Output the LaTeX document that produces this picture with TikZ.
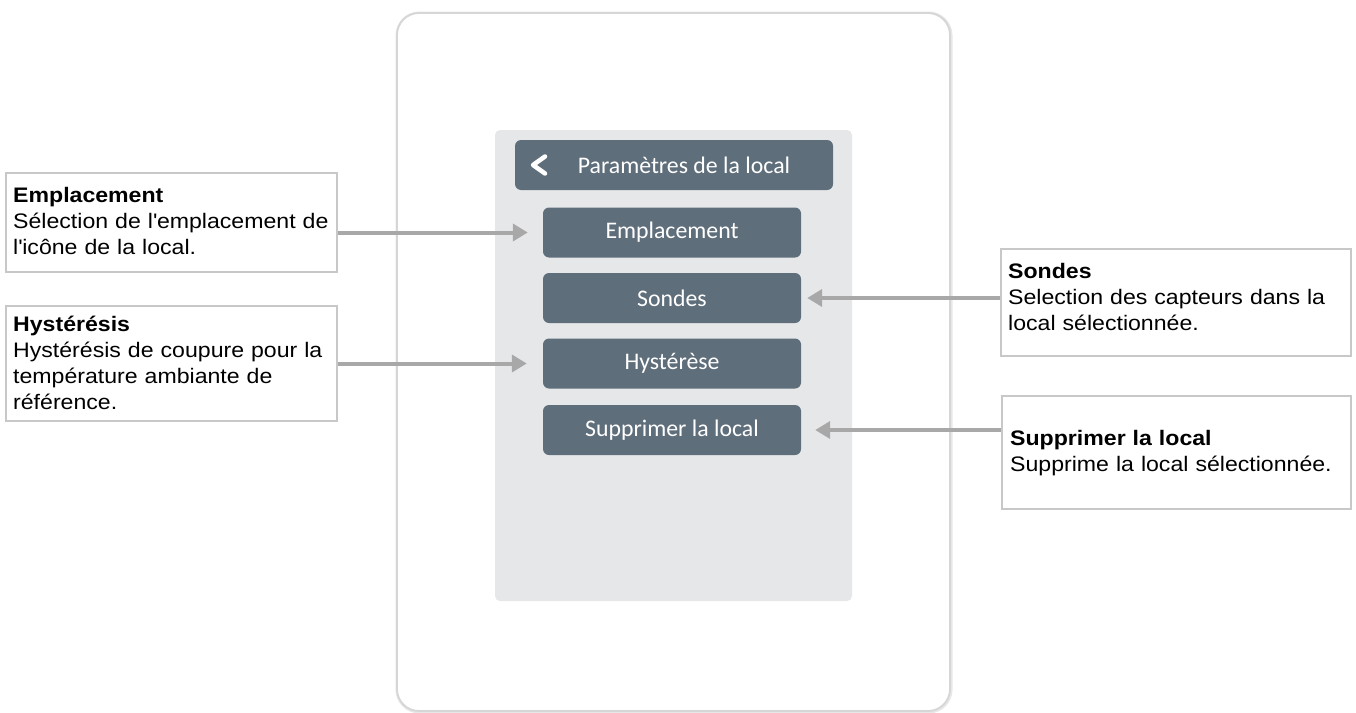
\documentclass[tikz,border=0pt]{standalone}
\usepackage{fontspec}
\setmainfont{Liberation Sans}[FakeStretch=1.1]
\newfontfamily\uifont{Carlito}
\usetikzlibrary{arrows.meta}

\definecolor{frameline}{HTML}{D6D6D6}
\definecolor{panelgray}{HTML}{E6E7E9}
\definecolor{slate}{HTML}{5F6E7B}
\definecolor{boxline}{HTML}{C8C8C8}
\definecolor{pointergray}{HTML}{A8A8A8}

\tikzset{
  uibutton/.style={fill=slate, rounded corners=6pt, minimum width=258pt,
    minimum height=50pt, text=white, font=\uifont\fontsize{23.8}{26}\selectfont,
    inner sep=0pt},
  calloutbox/.style={draw=boxline, line width=1.5pt, fill=white,
    anchor=north west, inner sep=0pt},
  callouttext/.style={anchor=base west, inner sep=0pt, align=left,
    text width=330pt, font=\fontsize{21}{26}\selectfont},
  pointer/.style={draw=pointergray, line width=4pt,
    -{Triangle[length=15pt,width=17pt]}, shorten >=15pt},
}

\begin{document}
\begin{tikzpicture}[x=1pt,y=-1pt]
\useasboundingbox (0,0) rectangle (1356,712);
\fill[white] (0,0) rectangle (1356,712);

% device outline with a faint shadow
\draw[frameline!60, line width=4pt, rounded corners=22pt]
  (397.5,13.5) rectangle (950.5,711.5);
\draw[frameline, line width=1.8pt, rounded corners=22pt, fill=white]
  (397,13) rectangle (950,711);

% screen panel
\fill[panelgray, rounded corners=5pt] (495,130) rectangle (852,601);

% header bar with back chevron
\node[uibutton, minimum width=318pt, minimum height=50pt] (header) at (674,165) {};
\node[text=white, inner sep=0pt, font=\uifont\fontsize{23.8}{26}\selectfont]
  (htitle) at (684,165) {Paramètres de la local};
\draw[white, line width=4.5pt, line cap=round, line join=round]
  (545,156.5) -- (533,165) -- (545,173.5);

% menu buttons
\node[uibutton] (bEmp) at (672,232.5) {Emplacement};
\node[uibutton] (bSon) at (672,298) {Sondes};
\node[uibutton] (bHys) at (672,363.5) {Hystérèse};
\node[uibutton] (bSup) at (672,430) {Supprimer la local};

% callout frames
\node[calloutbox, minimum width=331pt, minimum height=99pt] (cEmp) at (5,172) {};
\node[calloutbox, minimum width=331pt, minimum height=115pt] (cHys) at (5,305) {};
\node[calloutbox, minimum width=350pt, minimum height=107pt] (cSon) at (1000,248) {};
\node[calloutbox, minimum width=349pt, minimum height=113pt] (cSup) at (1001,395) {};

% callout texts
\node[callouttext] (tEmp) at (13,202)
  {\textbf{Emplacement}\\Sélection de l\textquotesingle emplacement de\\l\textquotesingle icône de la local.};
\node[callouttext] (tHys) at (13,331)
  {\textbf{Hystérésis}\\Hystérésis de coupure pour la\\température ambiante de\\référence.};
\node[callouttext] (tSon) at (1008,278)
  {\textbf{Sondes}\\Selection des capteurs dans la\\local sélectionnée.};
\node[callouttext] (tSup) at (1010,445)
  {\textbf{Supprimer la local}\\Supprime la local sélectionnée.};

% pointers
\draw[pointer] (cEmp.east |- bEmp.west) -- (bEmp.west);
\draw[pointer, shorten >=16pt] (cHys.east |- bHys.west) -- (bHys.west);
\draw[pointer, shorten >=6pt] (cSon.west |- bSon.east) -- (bSon.east);
\draw[pointer, shorten >=14pt] (cSup.west |- bSup.east) -- (bSup.east);
\end{tikzpicture}
\end{document}
